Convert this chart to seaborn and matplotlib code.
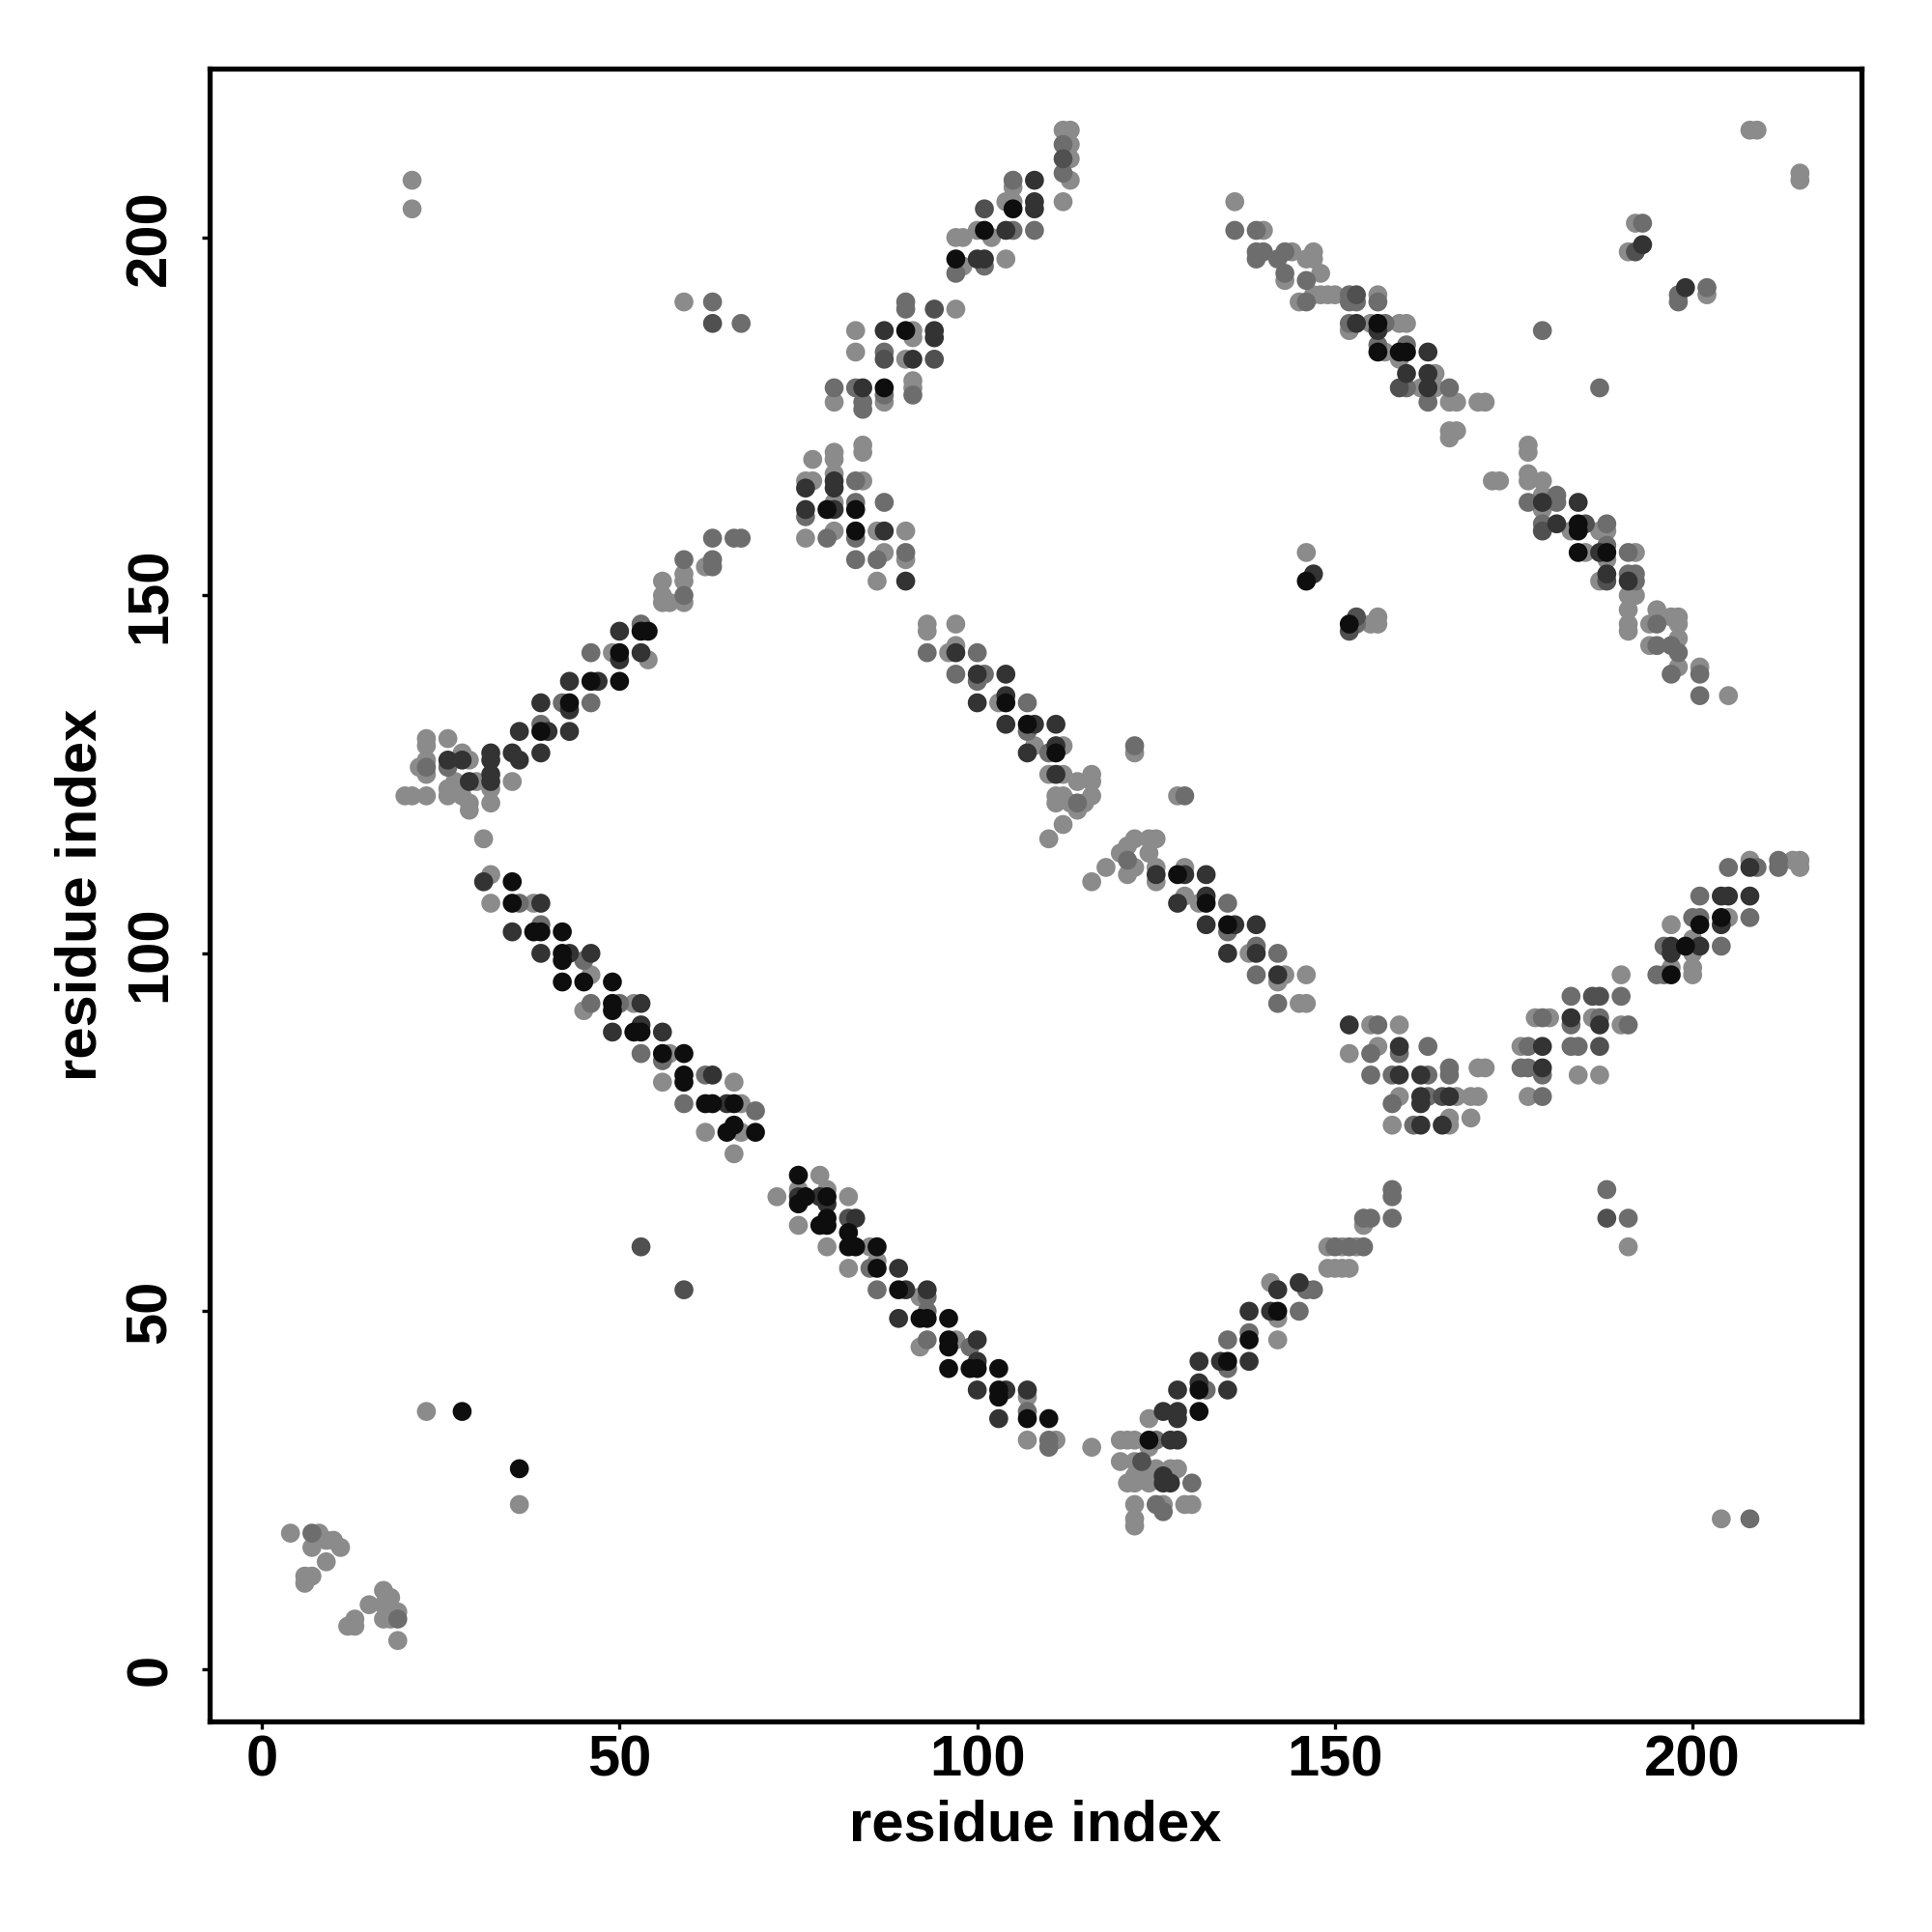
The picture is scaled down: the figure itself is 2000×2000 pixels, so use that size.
import pandas as pd
import matplotlib.pyplot as plt
import seaborn as sns
from matplotlib.colors import LinearSegmentedColormap

sns.set_theme(style="white")
plt.rcParams['font.family'] = ['Liberation Sans', 'DejaVu Sans']
plt.rcParams['text.color'] = 'black'
plt.rcParams['axes.labelcolor'] = 'black'

# contact strength levels
L, M, DM, D, B = 0.05, 0.25, 0.45, 0.65, 0.9

# (residue i, residue j, strength) grouped by band of the map
near_diag = [(4, 19, L), (7, 19, M), (8, 19, L), (7, 17, L), (9, 18, L), (10, 18, L), (11, 17, L),
             (9, 15, L), (6, 13, L), (7, 13, L), (6, 12, L), (12, 6, L), (13, 6, L), (13, 7, L),
             (15, 9, L), (17, 11, L), (17, 9, L), (17, 7, L), (18, 10, L), (18, 7, L), (19, 8, L),
             (19, 7, M), (19, 4, L)]

singles = [(21, 208, L), (21, 204, L), (59, 191, L), (63, 191, M), (63, 188, DM), (67, 188, M),
           (53, 59, DM), (59, 53, DM), (23, 36, L), (28, 36, B), (36, 28, B), (36, 23, L),
           (122, 129, M), (122, 128, L), (128, 122, L), (129, 122, M), (179, 187, M), (187, 179, M),
           (188, 67, M), (188, 63, DM), (191, 63, M), (191, 59, L), (204, 21, L), (208, 21, M),
           (208, 215, L), (209, 215, L), (215, 209, L), (215, 208, L), (192, 202, L), (193, 202, M),
           (191, 198, L), (192, 198, DM), (193, 199, D), (198, 192, M), (199, 193, D), (198, 191, M),
           (202, 193, M), (202, 192, L), (116, 110, L), (118, 112, L), (116, 31, L), (110, 116, L),
           (112, 118, L), (31, 116, L)]

band_c = [(50, 145, D), (53, 146, M), (53, 145, B), (54, 145, B), (46, 142, M), (49, 142, L), (50, 142, B),
          (50, 141, D), (53, 142, D), (54, 141, L), (43, 138, D), (46, 138, B), (47, 138, D), (50, 138, B),
          (39, 135, D), (42, 135, M), (43, 135, B), (43, 134, D), (46, 135, M), (36, 131, D), (39, 132, M),
          (39, 131, B), (40, 131, D), (43, 131, D), (32, 128, D), (32, 127, D), (35, 128, D), (36, 127, D),
          (39, 128, D), (35, 124, L), (32, 125, D), (32, 124, D), (32, 123, L), (32, 121, L), (23, 130, L),
          (23, 129, L), (26, 130, L), (23, 127, L), (22, 126, L), (23, 126, M), (23, 125, L), (26, 127, D),
          (26, 126, M), (28, 128, L), (29, 127, L), (28, 127, D), (27, 124, L), (29, 124, D), (30, 124, L),
          (26, 123, L), (26, 122, L), (28, 122, L), (29, 121, L), (29, 120, L), (20, 122, L), (21, 122, L),
          (23, 122, L), (63, 158, M), (66, 158, M), (67, 158, M), (63, 155, M), (62, 154, L), (63, 154, M),
          (59, 155, M), (59, 153, L), (59, 152, L), (59, 150, M), (59, 149, L), (56, 152, L), (56, 150, L),
          (56, 149, L), (57, 149, L)]

band_d = [(31, 110, D), (32, 111, L), (35, 110, B), (32, 107, L), (35, 107, B), (36, 107, M), (38, 107, L),
          (39, 107, D), (35, 103, D), (38, 103, B), (39, 104, M), (39, 103, B), (42, 103, B), (39, 100, D),
          (42, 100, B), (42, 99, B), (43, 100, D), (45, 99, M), (46, 100, D), (42, 96, B), (45, 96, B),
          (46, 97, L), (49, 96, B), (46, 93, M), (45, 92, L), (49, 93, B), (49, 92, B), (50, 93, M),
          (52, 93, L), (53, 93, D), (49, 89, D), (52, 89, B), (53, 90, D), (53, 89, B), (56, 89, D),
          (53, 86, M), (56, 86, B), (56, 85, M), (57, 86, L), (59, 86, B), (56, 82, L), (59, 83, B),
          (59, 82, B), (62, 83, M), (63, 83, D), (66, 82, L), (59, 79, M), (62, 79, B), (63, 79, B),
          (65, 79, D), (66, 79, B), (67, 79, L), (69, 78, M), (62, 75, L), (65, 75, B), (66, 76, B),
          (67, 75, L), (69, 75, B), (66, 72, L), (75, 69, B), (75, 67, L), (78, 69, L), (72, 66, L),
          (75, 66, D), (75, 65, B), (76, 66, B), (78, 66, D), (79, 67, L), (79, 66, B), (79, 65, D),
          (82, 66, L), (75, 62, L), (78, 62, B), (79, 63, B), (79, 62, B), (82, 63, DM), (83, 63, D),
          (82, 61, B), (79, 59, L), (82, 59, B), (83, 59, B), (85, 59, L), (86, 59, B), (82, 56, L),
          (85, 56, M), (86, 57, L), (86, 56, B), (89, 56, D), (86, 53, M), (89, 53, B), (90, 53, D),
          (92, 52, L), (93, 53, D), (93, 52, M), (89, 49, D), (92, 49, B), (93, 50, M), (93, 49, B),
          (96, 49, B), (92, 45, L), (93, 46, M), (96, 46, B), (96, 45, B), (97, 46, L), (99, 45, M),
          (100, 46, D), (96, 42, B), (99, 42, B), (100, 43, D), (100, 42, B), (103, 42, B), (100, 39, D),
          (103, 39, B), (103, 38, B), (104, 39, D), (107, 39, D), (107, 38, L), (103, 35, D), (107, 36, M),
          (107, 35, B), (110, 35, B), (107, 32, L), (110, 32, M), (110, 31, M), (111, 32, L)]

band_e = [(120, 32, L), (121, 32, L), (122, 32, L), (124, 32, B), (125, 32, M), (127, 32, D), (128, 32, D),
          (124, 31, L), (124, 35, L), (120, 29, L), (122, 29, L), (123, 29, DM), (125, 28, L), (127, 28, L),
          (128, 28, L), (122, 27, L), (123, 27, L), (126, 27, D), (127, 27, L), (121, 26, L), (122, 26, L),
          (124, 26, L), (126, 26, D), (127, 26, D), (130, 26, M), (122, 23, L), (125, 23, M), (126, 23, L),
          (126, 22, M), (129, 23, L), (130, 23, L), (122, 21, L), (122, 20, L), (126, 36, D), (128, 36, D),
          (128, 35, D), (131, 36, B), (128, 39, D), (131, 40, D), (131, 39, B), (132, 39, M), (135, 39, D),
          (131, 43, D), (134, 43, D), (135, 43, B), (135, 42, M), (138, 43, D), (135, 46, M), (138, 47, M),
          (138, 46, B), (142, 46, L), (138, 50, D), (141, 50, D), (142, 50, B), (142, 49, L), (145, 50, M),
          (141, 54, L), (142, 53, D), (145, 54, D), (146, 53, M), (147, 53, M), (158, 67, M), (158, 66, M),
          (154, 63, M), (155, 63, M), (158, 63, M), (154, 62, L), (149, 59, L), (150, 59, M), (151, 59, L),
          (152, 59, M), (153, 59, L), (154, 59, M), (149, 56, L), (150, 56, L), (151, 56, L), (152, 56, L)]

band_f = [(112, 215, L), (113, 215, L), (112, 213, M), (113, 213, L), (112, 211, DM), (113, 211, L),
          (112, 209, M), (113, 208, L), (112, 205, L), (105, 208, M), (105, 207, L), (108, 208, D),
          (108, 205, D), (108, 204, D), (105, 205, L), (105, 204, B), (104, 205, L), (101, 204, DM),
          (108, 201, M), (104, 201, D), (105, 201, M), (101, 201, B), (102, 200, L), (97, 200, L),
          (98, 200, L), (100, 201, L), (97, 197, B), (98, 196, L), (97, 195, M), (100, 197, D),
          (101, 197, D), (101, 196, M), (104, 197, L), (90, 191, M), (90, 190, M), (94, 190, DM),
          (97, 190, L), (83, 187, L), (87, 187, D), (90, 187, B), (91, 187, L), (94, 187, D), (94, 186, D),
          (91, 186, L), (83, 184, L), (87, 184, M), (87, 183, DM), (90, 183, L), (91, 183, D), (94, 183, DM),
          (80, 179, M), (80, 177, L), (83, 179, M), (84, 179, D), (84, 177, M), (84, 176, M), (87, 179, B),
          (87, 178, M), (87, 177, L), (91, 180, L), (91, 178, M), (91, 179, L), (77, 169, L), (80, 170, L),
          (80, 169, L), (80, 167, L), (80, 166, D), (80, 165, D), (84, 171, L), (84, 170, L), (76, 166, L),
          (77, 166, L), (76, 165, D), (83, 166, M), (84, 166, L), (76, 162, D), (76, 161, M), (79, 162, B),
          (80, 162, D), (80, 163, L), (83, 163, M), (83, 162, B), (87, 163, M), (76, 158, L), (79, 158, M),
          (80, 159, L), (83, 159, B), (83, 158, M), (86, 159, L), (87, 159, D), (90, 159, L), (83, 155, M),
          (86, 155, M), (87, 156, L), (90, 156, M), (90, 155, L), (86, 152, L), (90, 152, D)]

band_g = [(93, 146, L), (93, 145, L), (97, 146, L), (93, 142, M), (96, 142, L), (97, 142, D), (97, 143, L),
          (100, 142, M), (97, 139, M), (100, 139, D), (100, 138, M), (101, 139, M), (104, 139, D),
          (100, 135, D), (103, 135, L), (104, 136, D), (104, 135, B), (107, 135, M), (104, 132, D),
          (107, 132, B), (108, 132, D), (107, 131, M), (111, 132, D), (107, 128, D), (108, 129, L),
          (110, 128, M), (111, 129, D), (111, 128, B), (112, 129, L), (110, 125, L), (111, 125, D),
          (112, 125, L), (114, 124, L), (116, 125, L), (116, 124, L), (111, 122, L), (111, 121, L),
          (112, 122, L), (113, 121, L), (114, 121, M), (114, 120, L), (116, 122, L), (115, 121, L)]

band_h = [(120, 114, L), (121, 115, L), (122, 116, L), (124, 116, L), (125, 116, L), (121, 113, M),
          (122, 112, L), (121, 111, L), (124, 114, L), (125, 112, L), (125, 111, D), (125, 110, L),
          (128, 111, B), (129, 112, L), (129, 111, D), (132, 111, D), (128, 107, D), (129, 108, L),
          (131, 107, L), (132, 108, D), (132, 107, B), (135, 107, M), (132, 104, D), (135, 104, B),
          (136, 104, D), (135, 103, M), (139, 104, D), (135, 100, D), (138, 100, L), (139, 100, D),
          (139, 101, M), (142, 100, M), (139, 97, M), (142, 97, D), (143, 97, L), (142, 96, L),
          (146, 97, L), (142, 93, M), (145, 93, L), (146, 93, L)]

band_i = [(152, 90, D), (155, 90, L), (156, 90, M), (159, 90, L), (152, 86, L), (155, 86, M), (156, 87, L),
          (159, 87, D), (159, 86, M), (163, 87, M), (155, 83, M), (158, 83, M), (159, 83, D), (162, 83, D),
          (163, 83, M), (166, 84, M), (166, 83, M), (170, 84, L), (171, 84, L), (158, 79, M), (159, 80, L),
          (162, 80, D), (162, 79, D), (163, 80, M), (165, 80, DM), (166, 80, D), (167, 80, L), (169, 80, L),
          (170, 80, L), (158, 76, L), (161, 76, M), (162, 76, D), (165, 76, D), (166, 77, L), (166, 76, L),
          (169, 77, L), (176, 87, L), (177, 87, M), (179, 87, D), (176, 84, M), (177, 84, M), (179, 84, D),
          (179, 83, M), (177, 80, L), (179, 80, M), (178, 91, L), (179, 91, M), (180, 91, L), (183, 91, D),
          (183, 90, M), (183, 94, M), (186, 94, DM), (187, 94, DM), (190, 94, M), (186, 91, L), (187, 91, M),
          (187, 90, D), (190, 90, L), (191, 90, M), (183, 87, M), (184, 87, M), (187, 87, DM), (184, 83, L),
          (187, 83, L), (190, 97, L), (195, 97, M), (196, 97, M), (197, 97, B), (197, 98, L), (200, 97, L),
          (200, 98, L), (196, 101, M), (197, 101, D), (197, 100, D), (199, 101, B), (200, 102, L),
          (201, 101, D), (200, 100, L), (204, 101, M), (197, 104, L), (200, 105, M), (201, 105, M),
          (201, 104, B), (204, 105, B), (204, 104, D), (205, 105, L), (208, 105, M), (201, 108, M),
          (204, 108, D), (205, 108, D), (208, 108, D), (205, 112, M), (208, 113, L), (208, 112, D),
          (209, 112, M), (212, 113, M), (212, 112, M), (214, 113, L), (215, 113, L), (215, 112, L)]

band_j = [(136, 205, L), (136, 201, M), (139, 201, M), (140, 201, L), (139, 198, M), (139, 197, M),
          (140, 198, M), (143, 198, M), (144, 198, L), (142, 197, M), (143, 195, M), (143, 194, L),
          (146, 197, L), (146, 194, M), (145, 191, L), (146, 191, M), (147, 198, L), (147, 197, L),
          (148, 195, L), (147, 192, L), (148, 192, L), (149, 192, L), (150, 192, L), (152, 192, M),
          (153, 192, DM), (152, 191, M), (153, 191, M), (156, 192, L), (156, 191, M), (152, 188, M),
          (152, 187, L), (153, 188, D), (155, 188, L), (156, 188, B), (156, 187, D), (157, 188, M),
          (159, 188, L), (160, 188, L), (156, 185, M), (156, 184, B), (157, 184, L), (159, 184, B),
          (160, 185, M), (160, 184, B), (163, 184, D), (159, 183, L), (160, 181, D), (163, 181, D),
          (164, 181, L), (159, 179, DM), (160, 179, M), (162, 179, L), (163, 179, D), (164, 179, L),
          (166, 179, M), (163, 177, M), (166, 177, L), (167, 177, L), (170, 177, L), (171, 177, L),
          (166, 173, L), (167, 173, L), (166, 172, L), (177, 171, L), (177, 170, L), (172, 166, L),
          (173, 166, L), (177, 167, L), (177, 166, L), (179, 166, L), (177, 163, M), (179, 163, D),
          (179, 164, L), (181, 164, M), (181, 163, M), (184, 163, D), (179, 162, L), (179, 160, M),
          (179, 159, DM), (181, 160, D), (184, 160, B), (185, 160, DM), (184, 159, B), (183, 159, L),
          (188, 160, M), (187, 159, L), (188, 159, L), (184, 156, B), (185, 156, L), (187, 156, D),
          (188, 156, B), (188, 157, M), (188, 155, L), (191, 156, M), (192, 156, L), (187, 152, L),
          (188, 153, D), (188, 152, DM), (191, 153, M), (191, 152, D), (192, 153, M), (192, 152, M),
          (191, 150, L), (192, 150, L), (191, 148, L), (195, 148, L), (197, 147, L), (198, 147, L),
          (191, 146, L), (191, 145, L), (194, 146, L), (195, 146, M), (198, 146, L), (194, 143, L),
          (195, 143, M), (197, 143, M), (198, 144, L), (198, 142, M), (197, 139, M), (198, 140, L),
          (201, 140, L), (201, 139, M), (201, 136, M), (205, 136, L)]

band_k = [(146, 156, L), (147, 153, D), (146, 152, B), (153, 147, DM), (156, 147, L), (152, 146, B),
          (152, 145, DM), (153, 146, M), (155, 146, L), (156, 146, L)]

bands = [near_diag, singles, band_c, band_d, band_e, band_f, band_g, band_h, band_i, band_j, band_k]
df = pd.DataFrame([row for band in bands for row in band], columns=['i', 'j', 'p'])
df = df.sort_values('p', kind='stable')

grey_map = LinearSegmentedColormap.from_list('contact', [(0.57, 0.57, 0.57), (0.0, 0.0, 0.0)])

fig = plt.figure(figsize=(10, 10), dpi=200)
ax = fig.add_axes([0.1085, 0.109, 0.855, 0.8555])
sns.scatterplot(data=df, x='i', y='j', hue='p', palette=grey_map, hue_norm=(0, 1),
                s=50, linewidth=0, legend=False, ax=ax)

ax.set_xlim(-7.3, 223.6)
ax.set_ylim(-7.3, 223.6)
ax.set_xticks([0, 50, 100, 150, 200])
ax.set_yticks([0, 50, 100, 150, 200])
ax.set_yticklabels(['0', '50', '100', '150', '200'], rotation=90, va='center')
for side in ax.spines.values():
    side.set_linewidth(1.9)
    side.set_color('black')
ax.tick_params(axis='both', direction='out', length=3, width=1.2, color='black',
               labelcolor='black', labelsize=21.5, bottom=True, left=True)
ax.tick_params(axis='x', pad=2)
ax.tick_params(axis='y', pad=9)
for lab in ax.get_xticklabels() + ax.get_yticklabels():
    lab.set_fontweight('bold')
ax.set_xlabel('residue index', fontsize=21.5, fontweight='bold', labelpad=4)
ax.set_ylabel('residue index', fontsize=21.5, fontweight='bold', labelpad=6)

fig.savefig('out.png', dpi=200, facecolor='white')
